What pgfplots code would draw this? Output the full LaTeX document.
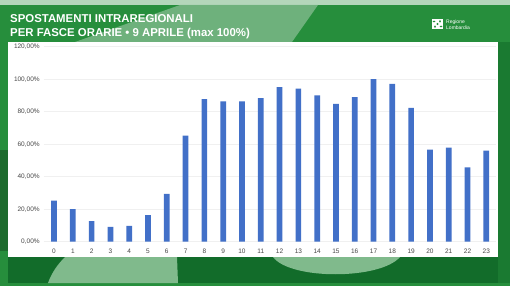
\documentclass[border=0pt]{standalone}
\usepackage{pgfplots}
\pgfplotsset{compat=1.18}
\usepackage{fontspec}
\setmainfont{Liberation Sans}
\definecolor{bggreen}{RGB}{38,142,60}
\definecolor{darkgreen}{RGB}{18,108,42}
\definecolor{lightgreen}{RGB}{128,186,140}
\definecolor{barblue}{RGB}{66,112,200}
\definecolor{ticklab}{RGB}{70,70,70}
\begin{document}
\begin{tikzpicture}[x=1pt,y=1pt]
% background
\fill[bggreen] (0,0) rectangle (510,286);
\fill[darkgreen] (8,3) rectangle (502,40);
\fill[darkgreen!60!bggreen] (498,3) rectangle (510,244);
\fill[lightgreen!60!white] (0,281) rectangle (510,286);
\fill[lightgreen,opacity=0.8] (180,281) -- (318,281) -- (292,244) -- (75,244) -- cycle;
\fill[lightgreen] (65,29) -- (177,29) -- (178,3) -- (48,3) .. controls (52,14) and (58,22) .. (65,29) -- cycle;
\fill[lightgreen] (273,29) .. controls (290,6) and (380,6) .. (400,29) -- cycle;
\fill[black!25!bggreen] (0,35) rectangle (8,136);
% white panel
\fill[white] (8,29.3) rectangle (498,244.3);
% title
\node[anchor=base west,inner sep=0,text=white,font=\bfseries\fontsize{11.4}{13}\selectfont] at (10,263) {SPOSTAMENTI INTRAREGIONALI};
\node[anchor=base west,inner sep=0,text=white,font=\bfseries\fontsize{11.4}{13}\selectfont] at (10,249.5) {PER FASCE ORARIE • 9 APRILE (max 100\%)};
% logo
\fill[white] (432,257) rectangle (443,267);
\node[anchor=base west,inner sep=0,text=white,font=\fontsize{5}{6}\selectfont] at (446,262.5) {Regione};
\node[anchor=base west,inner sep=0,text=white,font=\fontsize{5}{6}\selectfont] at (446,256.5) {Lombardia};
\fill[bggreen] (437.5,262) circle (1.1);
\fill[bggreen] (434,264.5) ellipse (1.4 and 0.9);
\fill[bggreen] (441,259.5) ellipse (1.4 and 0.9);
\fill[bggreen] (435,259.3) ellipse (0.9 and 1.4);
\fill[bggreen] (440,264.7) ellipse (0.9 and 1.4);
\begin{axis}[
  at={(43.7pt,44.3pt)}, anchor=south west,
  scale only axis, width=452pt, height=195pt,
  xmin=-0.55, xmax=23.5, ymin=0, ymax=120,
  axis line style={draw=none},
  major tick length=0pt,
  ymajorgrids, grid style={gray!12, line width=0.5pt},
  ytick={0,20,40,60,80,100,120},
  yticklabels={{0,00\%},{20,00\%},{40,00\%},{60,00\%},{80,00\%},{100,00\%},{120,00\%}},
  xtick={0,1,...,23},
  tick label style={text=ticklab},
  yticklabel style={font=\fontsize{6.5}{7}\selectfont, xshift=-0.5pt},
  xticklabel style={font=\fontsize{6.5}{7}\selectfont, yshift=-3.5pt},
  /pgf/number format/assume math mode=true,
]
\addplot[ybar, bar width=5.7pt, fill=barblue, draw=none] coordinates {
(0,25.2) (1,20.0) (2,12.7) (3,9.1) (4,9.7) (5,16.4) (6,29.4) (7,65.3)
(8,87.7) (9,86.4) (10,86.4) (11,88.3) (12,95.1) (13,94.2) (14,90.1)
(15,84.8) (16,88.9) (17,100.0) (18,97.1) (19,82.3) (20,56.7) (21,57.9)
(22,45.8) (23,56.0)
};
\end{axis}
\end{tikzpicture}
\end{document}
